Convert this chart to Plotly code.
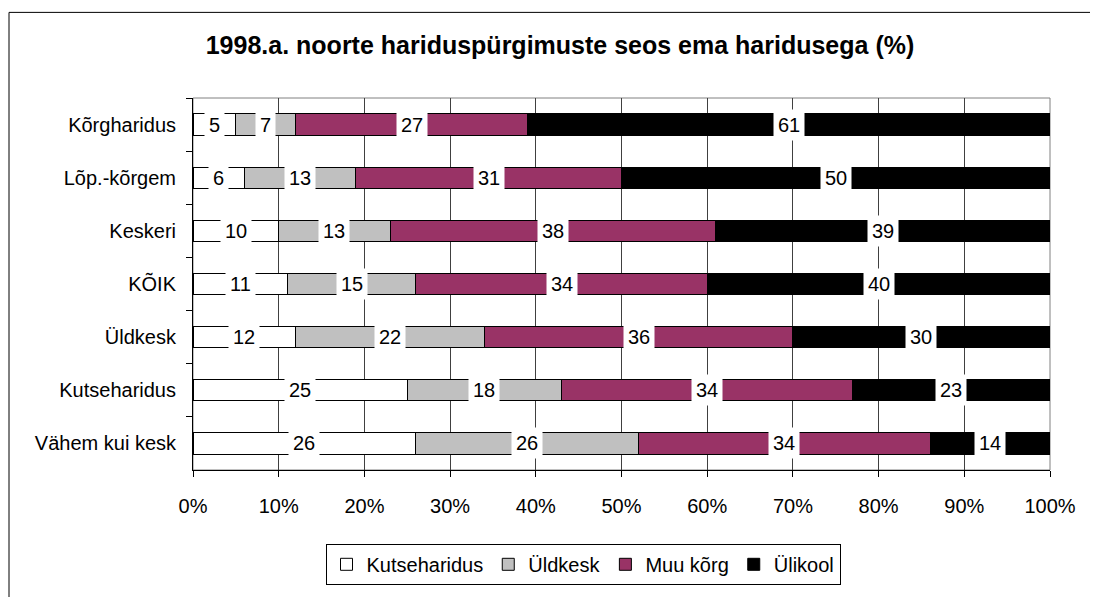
import plotly.graph_objects as go

categories = ["Kõrgharidus", "Lõp.-kõrgem", "Keskeri", "KÕIK", "Üldkesk", "Kutseharidus", "Vähem kui kesk"]
kutseharidus = [5, 6, 10, 11, 12, 25, 26]
uldkesk = [7, 13, 13, 15, 22, 18, 26]
muu_korg = [27, 31, 38, 34, 36, 34, 34]
ulikool = [61, 50, 39, 40, 30, 23, 14]

series_names = ["Kutseharidus", "Üldkesk", "Muu kõrg", "Ülikool"]
series_values = [kutseharidus, uldkesk, muu_korg, ulikool]
series_colors = ["#FFFFFF", "#C0C0C0", "#993366", "#000000"]

FONT = "Liberation Sans, Arial, sans-serif"

# page body adds an 8px offset; the figure is sized/positioned to compensate
OFF = 8
FW, FH = 1098 - OFF, 597 - OFF

fig = go.Figure()
for name, vals, col in zip(series_names, series_values, series_colors):
    fig.add_trace(go.Bar(
        y=categories, x=vals, name=name, orientation="h",
        marker=dict(color=col, line=dict(color="#000000", width=1)),
        hoverinfo="skip",
    ))

annotations = []
for i, cat in enumerate(categories):
    cum = 0
    for vals in series_values:
        v = vals[i]
        annotations.append(dict(
            x=cum + v / 2, y=cat, xref="x", yref="y", text=str(v),
            showarrow=False, bgcolor="#FFFFFF", borderpad=4,
            font=dict(family=FONT, size=20, color="#000000"),
        ))
        cum += v

# plot area geometry (reference pixels)
L, R, T, B = 193, 1050, 98, 476
W, H = R - L, B - T
def px(x):
    return (x - L) / W
def py(y):
    return (B - y) / H

shapes = [
    dict(type="rect", xref="paper", yref="paper", x0=0, x1=1, y0=0, y1=1,
         line=dict(color="#808080", width=1), layer="below"),
    dict(type="line", xref="paper", yref="paper", x0=px(9), x1=px(1110), y0=py(11), y1=py(11),
         line=dict(color="#000000", width=1)),
    dict(type="line", xref="paper", yref="paper", x0=px(9), x1=px(9), y0=py(11), y1=py(620),
         line=dict(color="#000000", width=1)),
]

fig.update_layout(
    width=FW, height=FH,
    margin=dict(l=L - OFF, r=1098 - R, t=T - OFF, b=597 - B),
    barmode="stack", bargap=0.6,
    paper_bgcolor="#FFFFFF", plot_bgcolor="#FFFFFF",
    font=dict(family=FONT, size=20, color="#000000"),
    title=dict(text="<b>1998.a. noorte hariduspürgimuste seos ema haridusega (%)</b>",
               x=(560 - OFF) / FW, xanchor="center", y=1 - (45 - OFF) / FH, yanchor="middle",
               yref="container", xref="container",
               font=dict(family=FONT, size=25, color="#000000")),
    xaxis=dict(range=[0, 100], dtick=10, ticksuffix="%", showgrid=True,
               gridcolor="#404040", gridwidth=1, zeroline=False,
               showline=True, linecolor="#000000", linewidth=1,
               ticks="outside", ticklen=6, tickcolor="#000000", ticklabelstandoff=12,
               tickfont=dict(family=FONT, size=20), fixedrange=True),
    yaxis=dict(autorange="reversed", showline=True, linecolor="#000000", linewidth=1,
               ticks="outside", ticklen=6, tickcolor="#000000", tickson="boundaries",
               showgrid=False, ticklabelstandoff=12,
               tickfont=dict(family=FONT, size=20), fixedrange=True),
    legend=dict(orientation="h", x=px(583), xanchor="center", y=py(551), yanchor="top",
                bordercolor="#000000", borderwidth=1, bgcolor="#FFFFFF",
                font=dict(family=FONT, size=20), itemwidth=30,
                traceorder="normal"),
    annotations=annotations,
    shapes=shapes,
)

fig.write_html("out.html")
